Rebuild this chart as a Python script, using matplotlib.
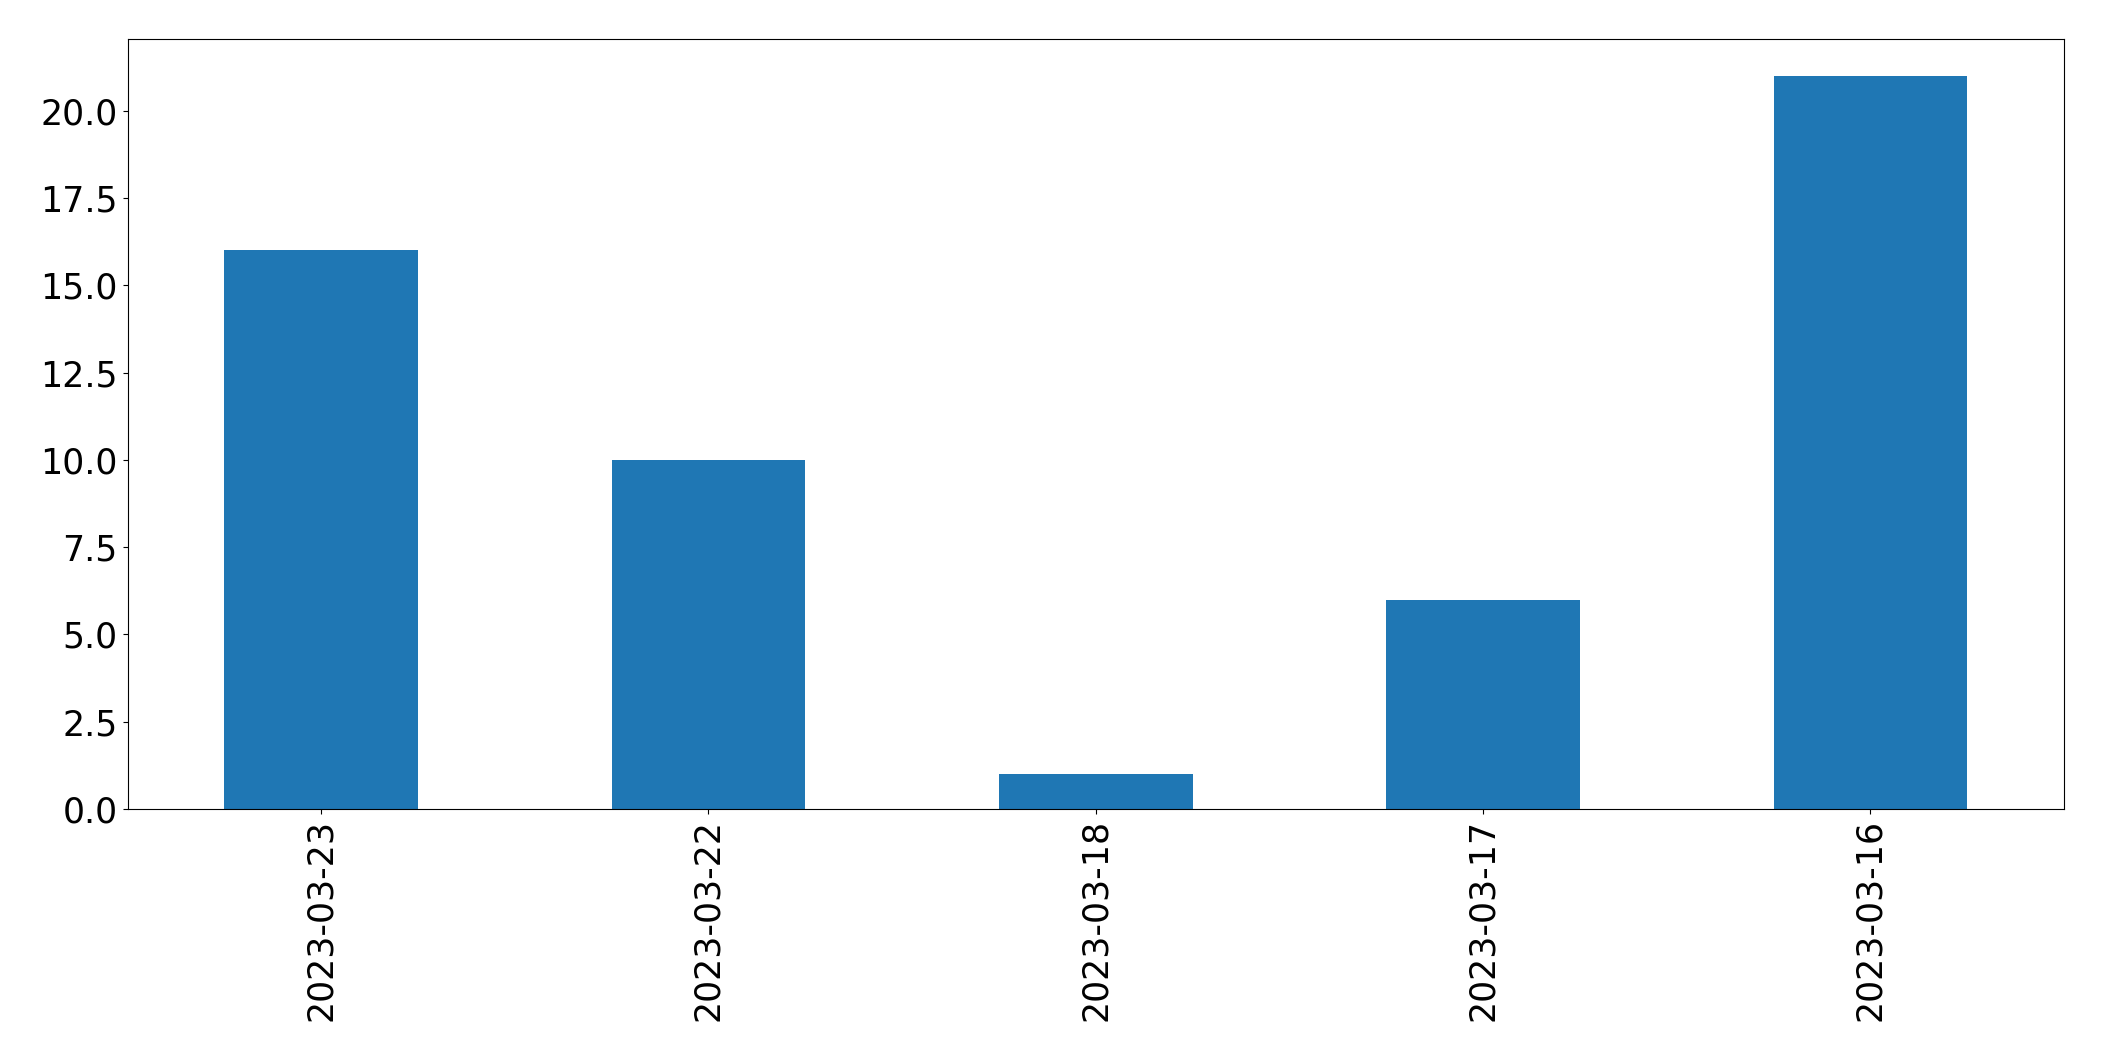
import matplotlib
matplotlib.use("Agg")
import matplotlib.pyplot as plt
import pandas as pd

# data
dates = ["2023-03-23", "2023-03-22", "2023-03-18", "2023-03-17", "2023-03-16"]
counts = [16, 10, 1, 6, 21]

s = pd.Series(counts, index=dates)

fig, ax = plt.subplots(figsize=(21.04, 10.61), dpi=100)
s.plot(kind="bar", ax=ax, color="#1f77b4", fontsize=25)
plt.subplots_adjust(left=0.0606, right=0.981, top=0.963, bottom=0.2375)
plt.savefig("out.png", dpi=100)
